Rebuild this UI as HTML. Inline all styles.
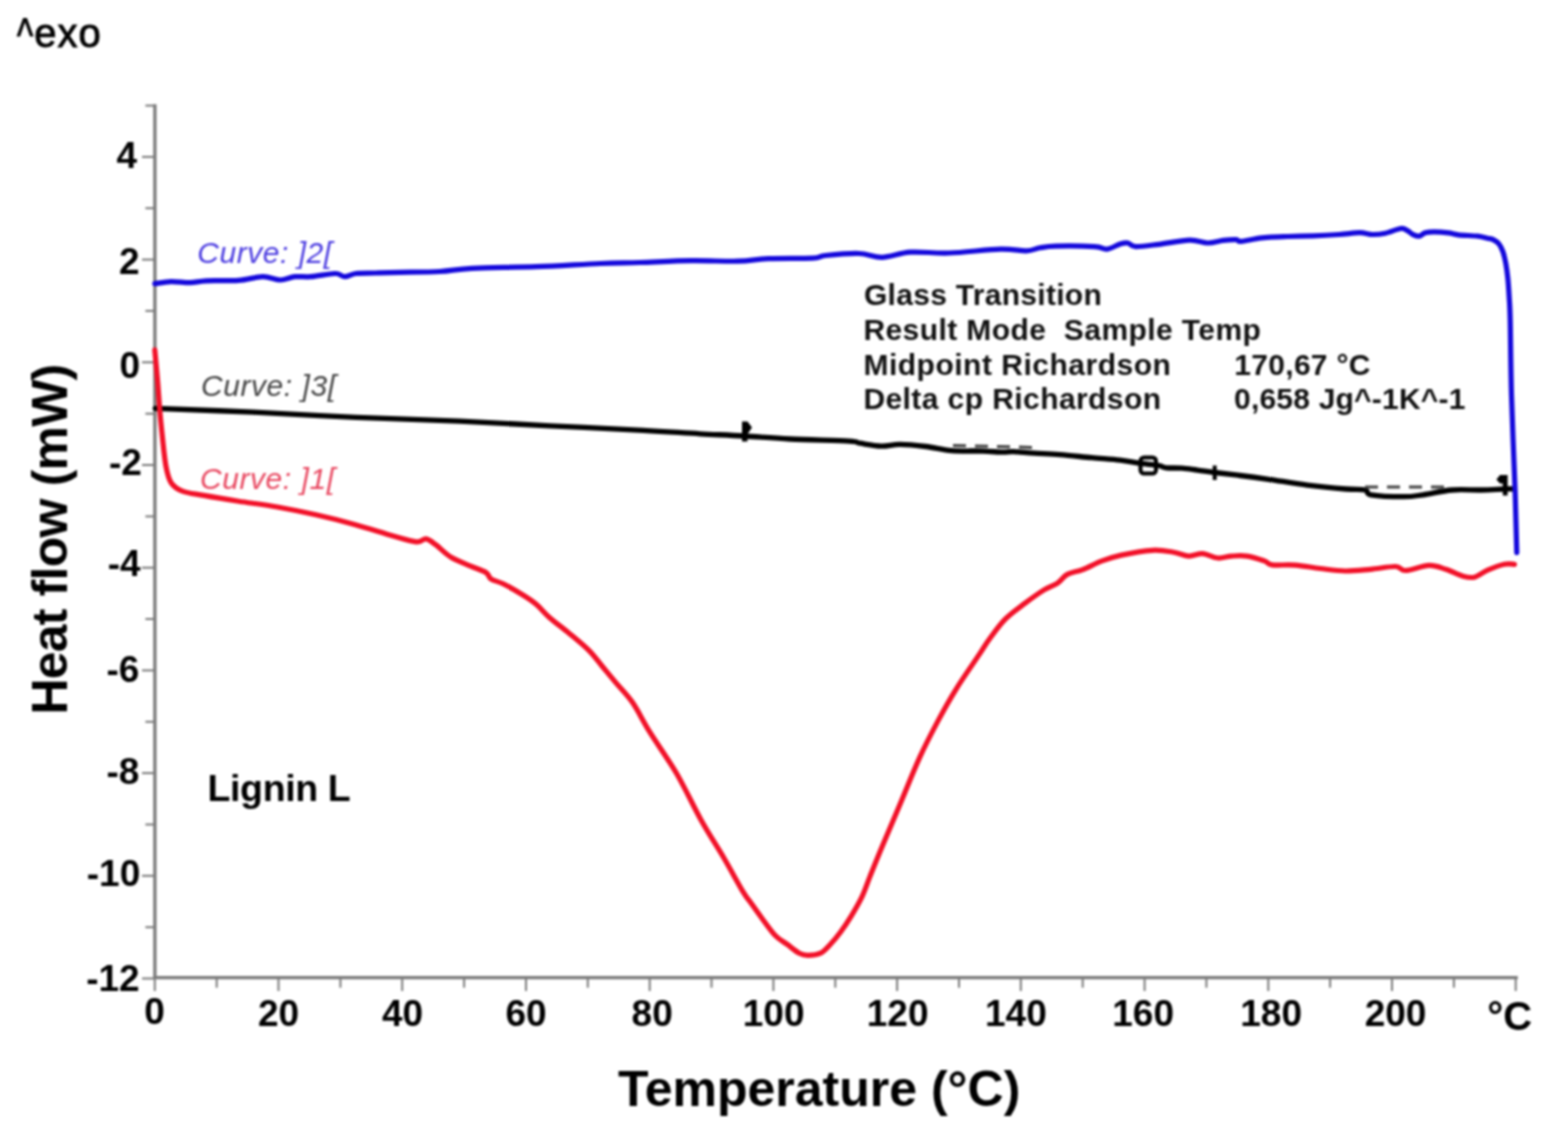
<!DOCTYPE html>
<html><head><meta charset="utf-8"><title>DSC Lignin L</title>
<style>
html,body{margin:0;padding:0;background:#fff;}
body{width:1553px;height:1133px;overflow:hidden;}
svg{display:block;filter:blur(1px);}
text{font-family:"Liberation Sans",Arial,sans-serif;}
.tl{font-size:37px;font-weight:bold;fill:#000;}
.tt{font-size:50px;font-weight:bold;fill:#000;}
.lg{font-size:30px;font-style:italic;letter-spacing:0.55px;}
.an{font-size:30px;font-weight:bold;fill:#111;}
.lb{font-size:37.5px;letter-spacing:-0.4px;font-weight:bold;fill:#000;}
.ex{font-size:40px;font-weight:normal;fill:#000;stroke:#000;stroke-width:0.9px;}
</style></head>
<body>
<svg width="1553" height="1133" viewBox="0 0 1553 1133">
<rect width="1553" height="1133" fill="#fff"/>
<line x1="154.9" y1="104.3" x2="154.9" y2="978.8" stroke="#7a7a7a" stroke-width="3.3"/>
<line x1="153.4" y1="977.6" x2="1517.8" y2="977.6" stroke="#7a7a7a" stroke-width="3.3"/>
<line x1="142" y1="978.5" x2="154.8" y2="978.5" stroke="#7a7a7a" stroke-width="2"/>
<line x1="145.4" y1="927.2" x2="154.8" y2="927.2" stroke="#7a7a7a" stroke-width="2"/>
<line x1="142" y1="875.8" x2="154.8" y2="875.8" stroke="#7a7a7a" stroke-width="2"/>
<line x1="145.4" y1="824.5" x2="154.8" y2="824.5" stroke="#7a7a7a" stroke-width="2"/>
<line x1="142" y1="773.1" x2="154.8" y2="773.1" stroke="#7a7a7a" stroke-width="2"/>
<line x1="145.4" y1="721.8" x2="154.8" y2="721.8" stroke="#7a7a7a" stroke-width="2"/>
<line x1="142" y1="670.4" x2="154.8" y2="670.4" stroke="#7a7a7a" stroke-width="2"/>
<line x1="145.4" y1="619.0" x2="154.8" y2="619.0" stroke="#7a7a7a" stroke-width="2"/>
<line x1="142" y1="567.7" x2="154.8" y2="567.7" stroke="#7a7a7a" stroke-width="2"/>
<line x1="145.4" y1="516.4" x2="154.8" y2="516.4" stroke="#7a7a7a" stroke-width="2"/>
<line x1="142" y1="465.0" x2="154.8" y2="465.0" stroke="#7a7a7a" stroke-width="2"/>
<line x1="145.4" y1="413.7" x2="154.8" y2="413.7" stroke="#7a7a7a" stroke-width="2"/>
<line x1="142" y1="362.3" x2="154.8" y2="362.3" stroke="#7a7a7a" stroke-width="2"/>
<line x1="145.4" y1="310.9" x2="154.8" y2="310.9" stroke="#7a7a7a" stroke-width="2"/>
<line x1="142" y1="259.6" x2="154.8" y2="259.6" stroke="#7a7a7a" stroke-width="2"/>
<line x1="145.4" y1="208.2" x2="154.8" y2="208.2" stroke="#7a7a7a" stroke-width="2"/>
<line x1="142" y1="156.9" x2="154.8" y2="156.9" stroke="#7a7a7a" stroke-width="2"/>
<line x1="145.4" y1="105.6" x2="154.8" y2="105.6" stroke="#7a7a7a" stroke-width="2"/>
<line x1="154.8" y1="977.6" x2="154.8" y2="991" stroke="#7a7a7a" stroke-width="2"/>
<line x1="216.7" y1="977.6" x2="216.7" y2="987.7" stroke="#7a7a7a" stroke-width="2"/>
<line x1="278.5" y1="977.6" x2="278.5" y2="991" stroke="#7a7a7a" stroke-width="2"/>
<line x1="340.4" y1="977.6" x2="340.4" y2="987.7" stroke="#7a7a7a" stroke-width="2"/>
<line x1="402.2" y1="977.6" x2="402.2" y2="991" stroke="#7a7a7a" stroke-width="2"/>
<line x1="464.1" y1="977.6" x2="464.1" y2="987.7" stroke="#7a7a7a" stroke-width="2"/>
<line x1="526.0" y1="977.6" x2="526.0" y2="991" stroke="#7a7a7a" stroke-width="2"/>
<line x1="587.8" y1="977.6" x2="587.8" y2="987.7" stroke="#7a7a7a" stroke-width="2"/>
<line x1="649.7" y1="977.6" x2="649.7" y2="991" stroke="#7a7a7a" stroke-width="2"/>
<line x1="711.5" y1="977.6" x2="711.5" y2="987.7" stroke="#7a7a7a" stroke-width="2"/>
<line x1="773.4" y1="977.6" x2="773.4" y2="991" stroke="#7a7a7a" stroke-width="2"/>
<line x1="835.3" y1="977.6" x2="835.3" y2="987.7" stroke="#7a7a7a" stroke-width="2"/>
<line x1="897.1" y1="977.6" x2="897.1" y2="991" stroke="#7a7a7a" stroke-width="2"/>
<line x1="959.0" y1="977.6" x2="959.0" y2="987.7" stroke="#7a7a7a" stroke-width="2"/>
<line x1="1020.8" y1="977.6" x2="1020.8" y2="991" stroke="#7a7a7a" stroke-width="2"/>
<line x1="1082.7" y1="977.6" x2="1082.7" y2="987.7" stroke="#7a7a7a" stroke-width="2"/>
<line x1="1144.6" y1="977.6" x2="1144.6" y2="991" stroke="#7a7a7a" stroke-width="2"/>
<line x1="1206.4" y1="977.6" x2="1206.4" y2="987.7" stroke="#7a7a7a" stroke-width="2"/>
<line x1="1268.3" y1="977.6" x2="1268.3" y2="991" stroke="#7a7a7a" stroke-width="2"/>
<line x1="1330.1" y1="977.6" x2="1330.1" y2="987.7" stroke="#7a7a7a" stroke-width="2"/>
<line x1="1392.0" y1="977.6" x2="1392.0" y2="991" stroke="#7a7a7a" stroke-width="2"/>
<line x1="1453.9" y1="977.6" x2="1453.9" y2="987.7" stroke="#7a7a7a" stroke-width="2"/>
<line x1="1515.7" y1="977.6" x2="1515.7" y2="991" stroke="#7a7a7a" stroke-width="2"/>
<text x="116.5" y="168.4" class="tl">4</text>
<text x="118.9" y="273.6" class="tl">2</text>
<text x="119.4" y="377.5" class="tl">0</text>
<text x="108.9" y="475.1" class="tl">-2</text>
<text x="107.7" y="576" class="tl">-4</text>
<text x="106.5" y="681.7" class="tl">-6</text>
<text x="106.5" y="783.9" class="tl">-8</text>
<text x="86.8" y="886.3" class="tl">-10</text>
<text x="86.2" y="990.6" class="tl">-12</text>
<text x="144.3" y="1024.3" class="tl">0</text>
<text x="257.9" y="1025.6" class="tl">20</text>
<text x="381.9" y="1025.6" class="tl">40</text>
<text x="505.5" y="1025.6" class="tl">60</text>
<text x="631.6" y="1025.6" class="tl">80</text>
<text x="742.8" y="1025.6" class="tl">100</text>
<text x="866.8" y="1025.6" class="tl">120</text>
<text x="985.0" y="1025.6" class="tl">140</text>
<text x="1112.3" y="1025.6" class="tl">160</text>
<text x="1240.3" y="1025.6" class="tl">180</text>
<text x="1364.7" y="1025.6" class="tl">200</text>
<text x="1487.3" y="1030" class="tl" style="font-size:40px">°C</text>
<path d="M155.2,408.3 C171.5,408.9 219.5,410.7 253.0,412.2 C286.5,413.7 321.7,415.8 356.0,417.3 C390.3,418.8 426.7,419.8 459.0,421.2 C491.3,422.6 519.3,424.3 550.0,425.8 C580.7,427.3 618.0,429.1 643.0,430.4 C668.0,431.7 683.2,432.9 700.0,433.8 C716.8,434.7 728.5,435.1 743.5,436.0 C758.5,436.9 772.4,438.1 790.0,439.0 C807.6,439.9 837.3,440.5 849.0,441.2 C860.7,441.9 854.6,442.4 860.0,443.2 C865.4,444.0 874.5,445.9 881.2,446.1 C887.9,446.3 892.6,444.3 900.0,444.4 C907.4,444.5 917.2,445.5 925.8,446.5 C934.4,447.5 942.1,449.8 951.5,450.6 C960.9,451.4 973.8,450.8 982.4,451.1 C991.0,451.4 997.9,452.1 1003.0,452.2 C1008.1,452.3 1008.1,451.4 1013.3,451.6 C1018.5,451.8 1026.2,452.7 1034.0,453.2 C1041.8,453.7 1050.4,453.9 1060.0,454.7 C1069.6,455.4 1081.8,456.8 1091.8,457.7 C1101.8,458.6 1112.1,459.2 1120.0,460.1 C1127.9,461.0 1132.6,462.3 1139.0,463.2 C1145.4,464.1 1154.0,464.7 1158.6,465.5 C1163.2,466.3 1162.5,467.4 1166.4,467.8 C1170.3,468.2 1176.7,467.8 1181.8,468.2 C1186.9,468.6 1191.8,469.4 1197.3,470.1 C1202.8,470.8 1207.6,471.6 1214.7,472.5 C1221.8,473.4 1231.0,474.4 1240.0,475.5 C1249.0,476.6 1257.4,477.7 1268.6,479.3 C1279.8,480.9 1294.4,483.5 1307.3,485.1 C1320.2,486.7 1336.2,488.2 1345.9,489.0 C1355.6,489.8 1361.0,489.0 1365.2,490.0 C1369.4,491.0 1364.6,493.7 1371.0,494.8 C1377.4,495.9 1395.1,496.7 1403.8,496.7 C1412.5,496.7 1415.2,495.9 1423.2,494.8 C1431.2,493.7 1442.4,490.8 1452.1,490.0 C1461.8,489.2 1472.4,490.2 1481.1,490.0 C1489.8,489.8 1499.0,489.2 1504.3,489.0 C1509.6,488.8 1511.5,489.0 1513.0,489.0" fill="none" stroke="#000" stroke-width="5.3" stroke-linejoin="round" stroke-linecap="round"/>
<path d="M154.8,349.9 C155.3,355.3 156.9,372.3 157.7,382.4 C158.5,392.5 159.0,401.2 159.8,410.6 C160.6,420.0 161.6,429.5 162.6,438.9 C163.6,448.3 164.7,459.8 166.1,467.1 C167.5,474.4 168.4,478.7 171.1,482.7 C173.8,486.7 177.0,489.0 182.4,491.1 C187.8,493.2 194.2,493.7 203.6,495.4 C213.0,497.1 226.3,499.3 238.6,501.2 C250.9,503.1 264.4,504.7 277.3,507.0 C290.2,509.3 303.0,511.9 315.9,514.8 C328.8,517.7 341.6,520.9 354.5,524.4 C367.4,527.9 382.9,533.1 393.2,536.0 C403.5,538.9 410.8,541.3 416.3,541.8 C421.8,542.3 422.8,538.4 426.0,538.9 C429.2,539.4 431.5,541.6 435.7,544.7 C439.9,547.8 445.4,553.8 451.1,557.3 C456.8,560.8 464.2,563.4 470.0,565.9 C475.8,568.4 482.4,570.3 485.9,572.5 C489.4,574.7 488.3,577.2 491.2,579.1 C494.1,581.0 497.8,581.1 503.1,583.8 C508.4,586.4 517.4,591.6 522.9,595.0 C528.4,598.4 531.8,600.5 536.2,604.3 C540.6,608.0 543.9,612.6 549.4,617.5 C554.9,622.4 562.7,627.9 569.3,633.4 C575.9,638.9 583.6,645.1 589.1,650.6 C594.6,656.1 598.0,661.2 602.4,666.5 C606.8,671.8 610.6,676.4 615.6,682.4 C620.6,688.4 626.7,694.0 632.4,702.3 C638.1,710.5 642.3,719.9 649.7,731.9 C657.1,743.9 668.2,759.1 676.9,774.0 C685.5,788.9 693.8,807.0 701.6,821.0 C709.4,835.0 716.9,846.0 723.9,858.0 C730.9,870.0 739.1,885.3 743.6,892.7 C748.1,900.1 747.7,898.3 750.6,902.4 C753.5,906.5 757.1,911.7 761.2,917.2 C765.3,922.7 770.6,930.6 775.0,935.2 C779.4,939.8 783.6,941.7 787.6,944.7 C791.6,947.7 795.9,951.4 799.3,953.2 C802.7,955.0 804.3,955.3 807.8,955.3 C811.3,955.3 816.8,955.0 820.5,953.2 C824.2,951.4 826.6,948.2 830.0,944.7 C833.4,941.2 837.1,936.8 840.6,932.0 C844.1,927.2 847.7,921.9 851.2,916.1 C854.7,910.3 858.6,903.8 861.8,897.1 C865.0,890.4 866.7,884.6 870.2,875.9 C873.7,867.2 877.7,857.2 882.9,844.8 C888.1,832.3 895.2,815.7 901.3,801.2 C907.4,786.7 913.5,771.0 919.6,757.6 C925.7,744.2 931.9,732.4 938.0,720.9 C944.1,709.4 949.4,699.9 956.3,688.8 C963.2,677.7 973.7,662.8 979.3,654.4 C984.9,646.0 985.6,644.1 990.0,638.2 C994.4,632.3 999.7,624.7 1005.5,618.9 C1011.3,613.1 1018.4,608.2 1024.8,603.4 C1031.2,598.6 1038.6,593.3 1044.1,589.9 C1049.6,586.5 1053.7,585.7 1057.6,583.1 C1061.5,580.5 1063.1,576.6 1067.3,574.4 C1071.5,572.1 1076.9,571.9 1082.7,569.6 C1088.5,567.4 1095.5,563.3 1102.0,560.9 C1108.5,558.5 1113.0,556.9 1121.4,555.1 C1129.8,553.3 1143.6,550.8 1152.3,550.3 C1161.0,549.8 1167.4,551.2 1173.5,552.2 C1179.6,553.2 1184.2,555.9 1189.0,556.1 C1193.8,556.3 1197.7,553.3 1202.5,553.6 C1207.3,553.9 1213.1,557.6 1217.9,558.0 C1222.7,558.4 1226.7,556.4 1231.5,556.1 C1236.3,555.8 1241.4,555.3 1246.9,556.1 C1252.4,556.9 1260.1,559.5 1264.3,560.9 C1268.5,562.3 1266.9,564.1 1272.0,564.8 C1277.1,565.5 1287.1,564.5 1295.1,565.1 C1303.1,565.7 1311.8,567.5 1320.2,568.5 C1328.6,569.5 1336.9,570.9 1345.3,571.0 C1353.7,571.1 1362.1,570.0 1370.5,569.3 C1378.9,568.5 1389.8,566.3 1395.6,566.5 C1401.4,566.7 1400.0,570.7 1405.6,570.5 C1411.2,570.3 1422.3,565.6 1429.0,565.4 C1435.7,565.2 1440.2,567.5 1445.8,569.3 C1451.4,571.1 1457.8,574.7 1462.5,576.0 C1467.2,577.3 1470.1,578.2 1474.3,577.2 C1478.5,576.2 1482.6,572.2 1487.6,570.1 C1492.6,568.0 1499.9,565.3 1504.4,564.3 C1508.9,563.3 1512.7,564.3 1514.4,564.3" fill="none" stroke="#f21028" stroke-width="5.2" stroke-linejoin="round" stroke-linecap="round"/>
<path d="M154.8,283.7 C157.5,283.4 165.0,281.8 170.9,281.6 C176.8,281.4 184.3,282.8 190.2,282.7 C196.1,282.6 198.2,281.2 206.3,280.8 C214.4,280.4 229.1,281.1 238.5,280.4 C247.9,279.7 255.7,276.8 262.7,276.7 C269.7,276.6 275.0,280.0 280.4,280.0 C285.8,280.0 289.8,277.2 294.9,276.7 C300.0,276.1 304.3,277.2 311.0,276.7 C317.7,276.2 329.5,273.5 335.1,273.5 C340.7,273.5 341.3,276.7 344.8,276.7 C348.3,276.7 350.9,274.1 356.0,273.5 C361.1,272.9 368.1,273.2 375.4,273.0 C382.7,272.8 389.2,272.6 400.0,272.3 C410.8,272.1 428.0,272.2 440.0,271.5 C452.0,270.8 455.9,269.1 472.0,268.3 C488.1,267.5 514.9,267.5 536.4,266.7 C557.9,265.9 583.4,264.2 600.7,263.5 C618.0,262.8 624.9,263.0 640.0,262.5 C655.1,262.0 675.2,260.9 691.5,260.7 C707.8,260.5 725.0,261.5 737.9,261.2 C750.8,260.9 756.3,259.1 768.8,258.6 C781.2,258.1 803.2,258.6 812.6,258.1 C822.0,257.6 817.7,256.3 825.4,255.5 C833.1,254.7 849.6,253.2 859.0,253.5 C868.4,253.8 873.4,257.5 882.0,257.3 C890.6,257.1 899.2,252.9 910.4,252.2 C921.6,251.5 934.0,253.5 949.0,253.0 C964.0,252.5 987.7,249.4 1000.6,249.1 C1013.5,248.8 1019.7,251.1 1026.3,250.9 C1032.9,250.7 1035.1,248.6 1040.0,247.8 C1044.9,247.0 1046.7,246.3 1055.8,246.1 C1064.9,245.9 1085.8,246.1 1094.4,246.6 C1103.0,247.1 1103.0,249.5 1107.3,249.1 C1111.6,248.7 1116.7,245.0 1120.1,244.0 C1123.5,243.0 1125.3,242.6 1127.9,243.0 C1130.5,243.4 1130.4,246.4 1135.6,246.6 C1140.8,246.8 1149.8,245.4 1158.8,244.3 C1167.8,243.2 1181.5,240.3 1189.7,240.1 C1197.9,239.9 1202.1,242.9 1207.7,243.0 C1213.3,243.1 1218.5,241.0 1223.2,240.4 C1227.9,239.8 1233.0,239.4 1236.0,239.6 C1239.0,239.8 1236.9,241.7 1241.2,241.4 C1245.5,241.1 1254.1,238.6 1261.8,237.8 C1269.5,237.0 1279.0,236.8 1287.6,236.5 C1296.2,236.2 1304.7,236.1 1313.3,235.8 C1321.9,235.5 1331.4,235.0 1339.1,234.5 C1346.8,234.0 1354.1,232.7 1359.7,232.7 C1365.3,232.7 1368.3,234.4 1372.6,234.5 C1376.9,234.6 1380.7,234.2 1385.4,233.2 C1390.1,232.2 1397.2,228.9 1400.9,228.5 C1404.6,228.1 1405.8,229.9 1407.8,230.9 C1409.8,231.9 1410.7,233.4 1412.6,234.3 C1414.5,235.2 1417.3,236.4 1419.4,236.2 C1421.5,235.9 1422.8,233.5 1425.2,232.8 C1427.6,232.1 1430.1,231.8 1434.0,231.8 C1437.9,231.8 1444.5,232.3 1448.5,232.8 C1452.5,233.3 1453.4,234.2 1458.3,234.8 C1463.2,235.4 1472.8,235.6 1477.7,236.2 C1482.6,236.8 1484.8,237.6 1487.4,238.2 C1490.0,238.8 1491.3,238.6 1493.2,239.6 C1495.1,240.6 1497.4,242.0 1499.0,244.0 C1500.6,246.0 1501.8,248.5 1502.9,251.7 C1504.0,254.9 1505.0,259.0 1505.8,263.4 C1506.6,267.8 1507.2,272.3 1507.8,278.0 C1508.4,283.7 1508.8,290.4 1509.2,297.4 C1509.6,304.4 1509.8,303.7 1510.2,320.0 C1510.6,336.3 1510.7,366.9 1511.5,395.3 C1512.3,423.8 1514.2,464.5 1515.1,490.7 C1516.0,516.9 1516.5,542.4 1516.8,552.7" fill="none" stroke="#1408dc" stroke-width="5.2" stroke-linejoin="round" stroke-linecap="round"/>
<line x1="953" y1="445.5" x2="1036" y2="447.5" stroke="#444" stroke-width="3" stroke-dasharray="13,9"/>
<line x1="1365" y1="487" x2="1445" y2="487" stroke="#444" stroke-width="3" stroke-dasharray="13,9"/>
<path d="M742,421.5 L747.5,421.5 L752,427.5 L747.5,434 L747.5,441.5 L742,441.5 Z" fill="#000"/>
<rect x="1140.5" y="457.5" width="15.5" height="16" rx="3.5" fill="none" stroke="#000" stroke-width="4"/>
<line x1="1214.7" y1="465.5" x2="1214.7" y2="480" stroke="#000" stroke-width="4"/>
<path d="M1507.6,475 L1500,475 L1496.4,479.6 L1500,483.5 L1502.8,483.5 L1502.8,495.5 L1507.6,495.5 Z" fill="#000"/>
<text x="197.2" y="262.8" class="lg" fill="#4a3ae0">Curve: ]2[</text>
<text x="201" y="395.7" class="lg" fill="#444">Curve: ]3[</text>
<text x="200" y="488.6" class="lg" fill="#e8465f">Curve: ]1[</text>
<text x="863.9" y="305.2" class="an" style="letter-spacing:0.3px">Glass Transition</text>
<text x="863.4" y="340.3" class="an" style="letter-spacing:0.42px">Result Mode&#160; Sample Temp</text>
<text x="863.4" y="375" class="an" style="letter-spacing:0.51px">Midpoint Richardson</text>
<text x="1234.3" y="375" class="an" style="letter-spacing:0.3px">170,67 °C</text>
<text x="863.4" y="409.2" class="an" style="letter-spacing:0.42px">Delta cp Richardson</text>
<text x="1234" y="409.2" class="an" style="letter-spacing:0.21px">0,658 Jg^-1K^-1</text>
<text x="207.6" y="800.8" class="lb">Lignin L</text>
<text transform="translate(16.9,51.5) scale(0.86,1.21)" class="ex">^</text>
<text x="34.3" y="46.7" class="ex" style="letter-spacing:1px">exo</text>
<text x="617.9" y="1106.2" class="tt">Temperature (°C)</text>
<text transform="translate(67.3,714.5) rotate(-90)" class="tt" style="letter-spacing:-0.8px">Heat flow (mW)</text>
</svg>
</body></html>
